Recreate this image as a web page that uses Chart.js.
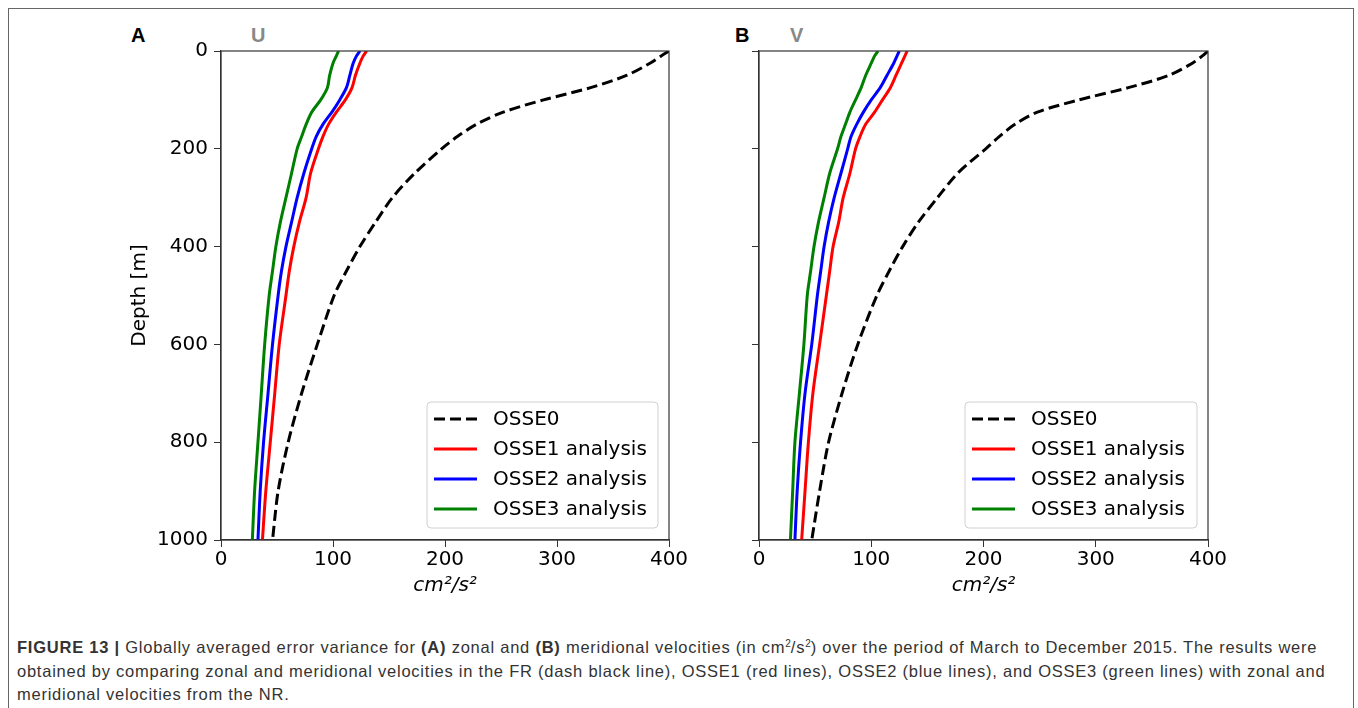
<!DOCTYPE html>
<html>
<head>
<meta charset="utf-8">
<script src="https://cdn.jsdelivr.net/npm/chart.js@4.4.0/dist/chart.umd.min.js"></script>
<style>
body{margin:0;background:#fff;width:1358px;height:708px;overflow:hidden;position:relative;font-family:"DejaVu Sans",sans-serif}
#frame{position:absolute;left:8px;top:8px;width:1346px;height:720px;border:1.5px solid #666;box-sizing:border-box}
canvas{position:absolute}
.lbl{position:absolute;font-family:"Liberation Sans",Arial,sans-serif;font-weight:bold;font-size:20px;line-height:20px}
#caption{position:absolute;left:17px;top:636px;width:1336px;font-family:"Liberation Sans",Arial,sans-serif;font-size:16.5px;letter-spacing:0.76px;line-height:23.5px;color:#333;white-space:nowrap}
#caption sup{font-size:10px;line-height:0;vertical-align:6px;letter-spacing:0}
</style>
</head>
<body>
<div id="frame"></div>
<div class="lbl" style="left:131px;top:25px;color:#000">A</div>
<div class="lbl" style="left:251px;top:25px;color:#888">U</div>
<div class="lbl" style="left:735px;top:25px;color:#000">B</div>
<div class="lbl" style="left:790px;top:25px;color:#888">V</div>
<canvas id="chartA" width="582" height="580" style="left:128px;top:30px"></canvas>
<canvas id="chartB" width="550" height="580" style="left:700px;top:30px"></canvas>
<div id="caption"><b>FIGURE 13 |</b> Globally averaged error variance for <b>(A)</b> zonal and <b>(B)</b> meridional velocities (in cm<sup>2</sup>/s<sup>2</sup>) over the period of March to December 2015. The results were<br>obtained by comparing zonal and meridional velocities in the FR (dash black line), OSSE1 (red lines), OSSE2 (blue lines), and OSSE3 (green lines) with zonal and<br>meridional velocities from the NR.</div>
<script>
// depth levels (m) and error variance (cm2/s2)
const depths = [0,10,25,50,75,100,125,150,175,200,250,300,350,400,450,500,600,700,800,900,1000];

// panel A - U
const uOsse0 = [400,393,383,362,330,288,252,228,211,197,173,153,138,124,112,101,86,72,60,51,46];
const uOsse1 = [130,127,124,120,117,111,103,96,91,87,80,76,70,65,61,58,52,48,44,40,37];
const uOsse2 = [124,121,118,115,112,106,99,91,85,81,74,68,63,58,54,51,46,42,38,35,33];
const uOsse3 = [105,103,100,97,95,89,81,76,72,68,63,58,53,49,46,43,39,36,33,30,28];

// panel B - V
const vOsse0 = [400,395,386,365,329,285,248,228,214,202,177,159,142,128,116,105,88,74,62,54,47];
const vOsse1 = [132,130,127,122,117,110,103,95,90,86,81,75,71,66,63,60,54,48,44,41,38];
const vOsse2 = [125,123,120,114,108,100,93,87,82,79,73,67,62,58,55,52,47,41,37,34,32];
const vOsse3 = [106,103,100,95,91,86,81,77,73,70,63,58,53,49,46,43,40,36,32,30,28];

const seriesNames = ['OSSE0','OSSE1 analysis','OSSE2 analysis','OSSE3 analysis'];
const seriesColors = ['#000000','#ff0000','#0000ff','#008000'];
const xTicks = [0,100,200,300,400];
const yTicks = [0,200,400,600,800,1000];

function pts(vals){
  return vals.map((v,i)=>({x:v,y:depths[i]}));
}

const frameAndLegend = {
  id:'frameAndLegend',
  afterDatasetsDraw(chart){
    const ctx=chart.ctx, a=chart.chartArea;
    ctx.save();
    ctx.strokeStyle='#333';
    ctx.lineWidth=1.2;
    ctx.strokeRect(a.left,a.top,a.right-a.left,a.bottom-a.top);
    // legend box in lower right
    const w=chart.options.legendWidth, h=126;
    const bx=a.right-11-w, by=a.bottom-12-h;
    ctx.beginPath();
    ctx.roundRect(bx,by,w,h,4);
    ctx.fillStyle='rgba(255,255,255,0.8)';
    ctx.fill();
    ctx.strokeStyle='#d0d0d0';
    ctx.lineWidth=1;
    ctx.stroke();
    ctx.font='20px "DejaVu Sans"';
    ctx.textBaseline='middle';
    chart.data.datasets.forEach((ds,i)=>{
      const y=by+17+i*30;
      ctx.beginPath();
      ctx.setLineDash(ds.borderDash||[]);
      ctx.strokeStyle=ds.borderColor;
      ctx.lineWidth=3;
      ctx.moveTo(bx+7,y);ctx.lineTo(bx+50,y);
      ctx.stroke();
      ctx.setLineDash([]);
      ctx.fillStyle='#000';
      ctx.fillText(ds.label,bx+66,y+1);
    });
    ctx.restore();
  }
};

function makeChart(id, vals, yWidth, padRight, showY, legendWidth){
  const datasets = vals.map((v,i)=>({
    label:seriesNames[i],
    data:pts(v),
    borderColor:seriesColors[i],
    borderWidth:3,
    borderDash:i===0?[11,5]:[],
    pointRadius:0,
    tension:0.3,
    fill:false
  }));
  return new Chart(document.getElementById(id),{
    type:'line',
    data:{datasets},
    options:{
      responsive:false,
      animation:false,
      devicePixelRatio:1,
      legendWidth:legendWidth,
      layout:{padding:{left:0,right:padRight,top:21,bottom:12}},
      plugins:{legend:{display:false},tooltip:{enabled:false}},
      scales:{
        x:{
          type:'linear',min:0,max:400,
          afterBuildTicks(s){s.ticks=xTicks.map(v=>({value:v}));},
          afterFit(s){s.height=58;},
          grid:{drawOnChartArea:false,tickLength:7,color:'#333'},
          border:{color:'#333',width:1.2},
          ticks:{color:'#000',font:{family:'DejaVu Sans',size:20},padding:1,maxRotation:0,callback:v=>String(v)},
          title:{display:true,text:'cm²/s²',color:'#000',font:{family:'DejaVu Sans',size:20,style:'italic'},padding:{top:0,bottom:0}}
        },
        y:{
          type:'linear',min:0,max:1000,reverse:true,
          afterBuildTicks(s){s.ticks=yTicks.map(v=>({value:v}));},
          afterFit(s){s.width=yWidth;},
          grid:{drawOnChartArea:false,tickLength:7,color:'#333'},
          border:{color:'#333',width:1.2},
          ticks:{display:showY,color:'#000',font:{family:'DejaVu Sans',size:20},padding:6,callback:v=>String(v)},
          title:{display:showY,text:'Depth [m]',color:'#000',font:{family:'DejaVu Sans',size:20},padding:{top:0,bottom:0}}
        }
      }
    },
    plugins:[frameAndLegend]
  });
}

makeChart('chartA',[uOsse0,uOsse1,uOsse2,uOsse3],93,41,true,231);
makeChart('chartB',[vOsse0,vOsse1,vOsse2,vOsse3],59,42,false,232);
</script>
</body>
</html>
